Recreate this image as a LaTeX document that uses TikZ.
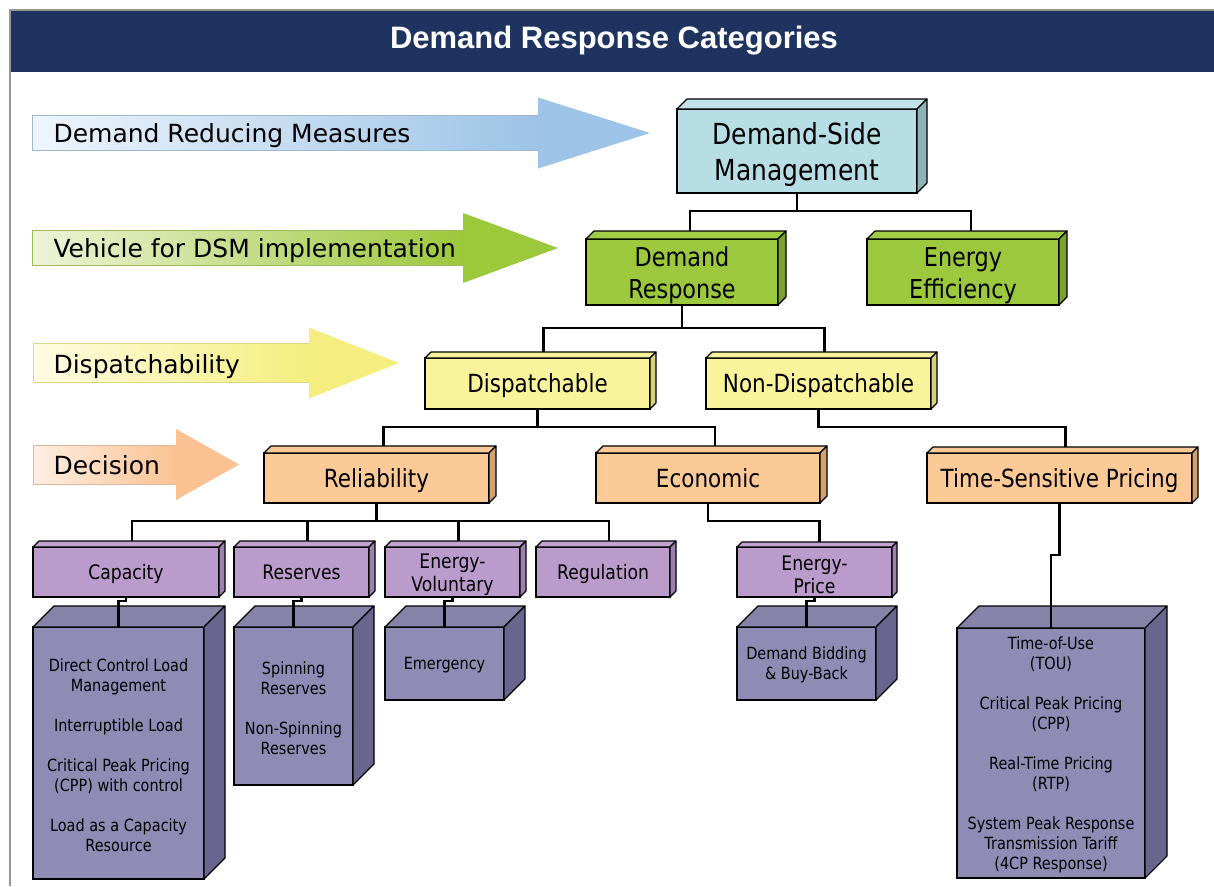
\documentclass[tikz,border=0pt]{standalone}
\usepackage{fontspec}
\usepackage{tikz}
\usetikzlibrary{calc}

\newfontfamily\boxfont{DejaVu Sans}[FakeStretch=0.86]
\newfontfamily\tagfont{DejaVu Sans}
\newfontfamily\headfont{Liberation Sans}

\definecolor{navy}{RGB}{31,51,96}
\definecolor{framegray}{RGB}{150,150,150}
\definecolor{dsmc}{RGB}{183,222,228}
\definecolor{dsmtop}{RGB}{194,227,232}
\definecolor{dsmside}{RGB}{143,178,183}
\definecolor{drc}{RGB}{155,200,60}
\definecolor{drtop}{RGB}{160,204,70}
\definecolor{drside}{RGB}{122,162,49}
\definecolor{dpc}{RGB}{249,243,155}
\definecolor{dptop}{RGB}{246,241,152}
\definecolor{dpside}{RGB}{214,209,124}
\definecolor{dcc}{RGB}{251,202,151}
\definecolor{dctop}{RGB}{249,201,152}
\definecolor{dcside}{RGB}{212,161,115}
\definecolor{catc}{RGB}{187,155,203}
\definecolor{cattop}{RGB}{193,163,208}
\definecolor{catside}{RGB}{158,128,174}
\definecolor{progc}{RGB}{144,139,181}
\definecolor{progtop}{RGB}{133,131,168}
\definecolor{progside}{RGB}{106,101,143}
\definecolor{blueA}{RGB}{238,245,252}
\definecolor{blueB}{RGB}{157,195,230}
\definecolor{greenA}{RGB}{238,243,216}
\definecolor{greenB}{RGB}{156,200,59}
\definecolor{yellowA}{RGB}{254,252,228}
\definecolor{yellowB}{RGB}{245,238,126}
\definecolor{orangeA}{RGB}{254,238,226}
\definecolor{orangeB}{RGB}{250,194,147}

\tikzset{
  box/.style={draw, line width=1.3pt, inner sep=0pt, outer sep=0pt,
    anchor=north west, align=center},
  lvlone/.style={box, fill=dsmc, font=\boxfont\fontsize{29}{36}\selectfont},
  lvltwo/.style={box, fill=drc, font=\boxfont\fontsize{26}{32}\selectfont},
  lvlthree/.style={box, fill=dpc, font=\boxfont\fontsize{25}{30}\selectfont},
  lvlfour/.style={box, fill=dcc, font=\boxfont\fontsize{25}{30}\selectfont},
  lvlfive/.style={box, fill=catc, font=\boxfont\fontsize{20}{23}\selectfont},
  lvlsix/.style={box, fill=progc, font=\boxfont\fontsize{16.8}{20}\selectfont},
  facet/.style={draw, line width=1.1pt, line join=round},
  link/.style={draw, line width=2.3pt},
  tag/.style={anchor=base west, font=\tagfont\fontsize{25}{30}\selectfont}
}

% strut so that the capitals sit in the middle of a box
\newcommand{\bs}{\rule[-0.25em]{0pt}{1.23em}}

% top and right faces of a box, and the middle of its back top edge
\newcommand{\boxfaces}[4]{%
  \filldraw[facet, fill=#3] (#1.north west) -- ++(#2,-#2)
    -- ($(#1.north east)+(#2,-#2)$) -- (#1.north east) -- cycle;
  \filldraw[facet, fill=#4] (#1.north east) -- ++(#2,-#2)
    -- ($(#1.south east)+(#2,-#2)$) -- (#1.south east) -- cycle;
  \coordinate (#1-t) at ($(#1.north)+(#2,-#2)$);}

% broad arrow: x start, x head, x tip, y middle, half body, half head, colours
\newcommand{\bandarrow}[8]{%
  \shade[left color=#7, right color=#8] (#1,{#4-#5}) rectangle (#2,{#4+#5});
  \draw[#8!85!black!80, line width=0.8pt] (#2,{#4-#5}) -- (#1,{#4-#5})
    -- (#1,{#4+#5}) -- (#2,{#4+#5});
  \fill[#8] (#2,{#4-#6}) -- (#3,#4) -- (#2,{#4+#6}) -- cycle;}

\begin{document}
\begin{tikzpicture}[x=1pt, y=-1pt]
  \useasboundingbox (0,0) rectangle (1214,886);
  % frame and title
  \fill[white] (0,0) rectangle (1214,886);
  \draw[framegray, line width=1.6pt] (10,886) -- (10,10) -- (1214,10);
  \fill[navy] (10.8,11) rectangle (1214,72);
  \node[font=\headfont\bfseries\fontsize{31}{36}\selectfont, text=white,
    anchor=base] (title) at (614,48) {Demand Response Categories};

  % left arrows
  \bandarrow{32}{538}{650}{133}{17.5}{35.5}{blueA}{blueB}
  \bandarrow{32}{463}{558}{248}{17.5}{35}{greenA}{greenB}
  \bandarrow{33}{309}{399}{363}{19.5}{35.5}{yellowA}{yellowB}
  \bandarrow{33}{176}{239}{464.5}{19.5}{35.5}{orangeA}{orangeB}
  \node[tag] (measures) at (50,142.5) {Demand Reducing Measures};
  \node[tag] (vehicle) at (50,257.5) {Vehicle for DSM implementation};
  \node[tag] (dispatch) at (50,373) {Dispatchability};
  \node[tag] (decision) at (50,474) {Decision};

  % boxes
  \node[lvlone, minimum width=240, minimum height=84] (dsm) at (677,109)
    {\bs Demand-Side\\Management};
  \boxfaces{dsm}{10}{dsmtop}{dsmside}
  \node[lvltwo, minimum width=192, minimum height=66] (dr) at (586,239)
    {\bs Demand\\Response};
  \boxfaces{dr}{8}{drtop}{drside}
  \node[lvltwo, minimum width=192, minimum height=66] (ee) at (867,239)
    {\bs Energy\\Efficiency};
  \boxfaces{ee}{8}{drtop}{drside}
  \node[lvlthree, minimum width=225, minimum height=51] (disp) at (425,358)
    {\bs Dispatchable};
  \boxfaces{disp}{6}{dptop}{dpside}
  \node[lvlthree, minimum width=225, minimum height=51] (ndisp) at (706,358)
    {\bs Non-Dispatchable};
  \boxfaces{ndisp}{6}{dptop}{dpside}
  \node[lvlfour, minimum width=225, minimum height=50] (rel) at (264,453)
    {\bs Reliability};
  \boxfaces{rel}{7}{dctop}{dcside}
  \node[lvlfour, minimum width=224, minimum height=50] (eco) at (596,453)
    {\bs Economic};
  \boxfaces{eco}{7}{dctop}{dcside}
  \node[lvlfour, minimum width=265, minimum height=50] (tsp) at (927,453)
    {\bs Time-Sensitive Pricing};
  \boxfaces{tsp}{6}{dctop}{dcside}
  \node[lvlfive, minimum width=186, minimum height=50] (cap) at (33,547)
    {\bs Capacity};
  \boxfaces{cap}{6}{cattop}{catside}
  \node[lvlfive, minimum width=135, minimum height=50] (res) at (234,547)
    {\bs Reserves};
  \boxfaces{res}{6}{cattop}{catside}
  \node[lvlfive, minimum width=135, minimum height=50] (envol) at (385,547)
    {\bs Energy-\\Voluntary};
  \boxfaces{envol}{6}{cattop}{catside}
  \node[lvlfive, minimum width=134, minimum height=50] (reg) at (536,547)
    {\bs Regulation};
  \boxfaces{reg}{6}{cattop}{catside}
  \node[lvlfive, minimum width=155, minimum height=50] (enpr) at (737,547)
    {\bs Energy-\\Price};
  \boxfaces{enpr}{5}{cattop}{catside}

  % programme boxes
  \node[lvlsix, minimum width=171, minimum height=252] (capx) at (33,627)
    {\bs Direct Control Load\\Management\\[20pt]Interruptible Load\\[20pt]%
     Critical Peak Pricing\\(CPP) with control\\[20pt]Load as a Capacity\\Resource};
  \boxfaces{capx}{21}{progtop}{progside}
  \node[lvlsix, minimum width=119, minimum height=158] (resx) at (234,627)
    {\bs Spinning\\Reserves\\[20pt]Non-Spinning\\Reserves};
  \boxfaces{resx}{21}{progtop}{progside}
  \node[lvlsix, minimum width=119, minimum height=73] (emerg) at (385,627)
    {\bs Emergency};
  \boxfaces{emerg}{21}{progtop}{progside}
  \node[lvlsix, minimum width=139, minimum height=73] (bid) at (737,627)
    {\bs Demand Bidding\\\& Buy-Back};
  \boxfaces{bid}{21}{progtop}{progside}
  \node[lvlsix, minimum width=188, minimum height=250] (tou) at (957,628)
    {\bs Time-of-Use\\(TOU)\\[20pt]Critical Peak Pricing\\(CPP)\\[20pt]%
     Real-Time Pricing\\(RTP)\\[20pt]System Peak Response\\Transmission Tariff\\(4CP Response)};
  \boxfaces{tou}{22}{progtop}{progside}

  % connectors
  \draw[link] (dsm.south) -- ++(0,18) -| (dr-t);
  \draw[link] (dsm.south) -- ++(0,18) -| (ee-t);
  \draw[link] (dr.south) -- ++(0,23) -| (disp-t);
  \draw[link] (dr.south) -- ++(0,23) -| (ndisp-t);
  \draw[link] (disp.south) -- ++(0,18) -| (rel-t);
  \draw[link] (disp.south) -- ++(0,18) -| (eco-t);
  \draw[link] (ndisp.south) -- ++(0,18) -| (tsp-t);
  \draw[link] (rel.south) -- ++(0,18) -| (cap-t);
  \draw[link] (rel.south) -- ++(0,18) -| (res-t);
  \draw[link] (rel.south) -- ++(0,18) -| (envol-t);
  \draw[link] (rel.south) -- ++(0,18) -| (reg-t);
  \draw[link] (eco.south) -- ++(0,18) -| (enpr-t);
  \draw[link] (cap.south) -- ++(0,4) -| (capx.north);
  \draw[link] (res.south) -- ++(0,4) -| (resx.north);
  \draw[link] (envol.south) -- ++(0,4) -| (emerg.north);
  \draw[link] (enpr.south) -- ++(0,4) -| (bid.north);
  \draw[link] (tsp.south) -- ++(0,52) -| (tou.north);
\end{tikzpicture}
\end{document}
